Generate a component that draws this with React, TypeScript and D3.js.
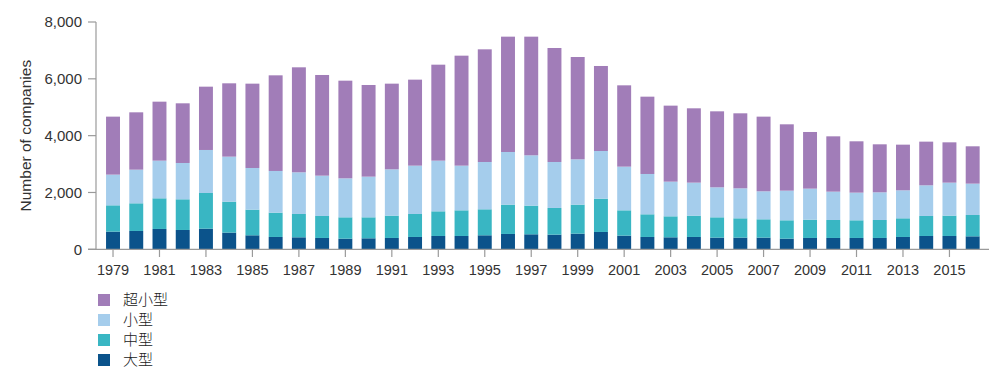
import React from "react";
import * as d3 from "d3";

const years = d3.range(1979, 2017).map(String);
// 大型 (large)
const large = [622, 645, 716, 680, 727, 587, 493, 434, 422, 399, 375, 387, 399, 434, 469, 469, 493, 540, 528, 516, 551, 610, 481, 434, 422, 434, 411, 411, 411, 375, 399, 399, 399, 399, 434, 469, 469, 457];
// 中型 (medium)
const medium = [926, 974, 1079, 1080, 1255, 1090, 903, 856, 821, 774, 751, 739, 786, 809, 868, 903, 915, 1032, 1009, 939, 1021, 1173, 891, 798, 739, 751, 715, 680, 645, 646, 645, 633, 622, 633, 657, 704, 716, 751];
// 小型 (small)
const small = [1080, 1184, 1325, 1278, 1514, 1584, 1466, 1467, 1467, 1419, 1372, 1431, 1630, 1701, 1783, 1572, 1665, 1853, 1771, 1618, 1595, 1677, 1537, 1419, 1220, 1161, 1056, 1056, 985, 1043, 1091, 997, 973, 974, 985, 1079, 1161, 1103];
// 超小型 (micro)
const micro = [2041, 2018, 2076, 2100, 2228, 2581, 2968, 3366, 3695, 3543, 3437, 3226, 3015, 3027, 3378, 3871, 3965, 4059, 4176, 4012, 3601, 2992, 2862, 2721, 2675, 2616, 2674, 2639, 2628, 2335, 1994, 1947, 1807, 1689, 1607, 1537, 1419, 1314];

const seriesKeys = ["large", "medium", "small", "micro"];
const seriesLabels = ["大型", "中型", "小型", "超小型"];
const seriesColors = ["#0b538b", "#39b6c3", "#a5cdec", "#a17db8"];
const yTicks = [0, 2000, 4000, 6000, 8000];
const xTickLabels = years.filter((_, i) => i % 2 === 0);

const rows = years.map((y, i) => ({
  year: y,
  large: large[i],
  medium: medium[i],
  small: small[i],
  micro: micro[i],
}));

export default function App() {
  const W = 1000, H = 388;
  const x = d3.scaleBand<string>().domain(years).range([101.4, 984.3]).paddingInner(0.4).paddingOuter(0.2);
  const y = d3.scaleLinear().domain([0, 8000]).range([249.3, 22]);
  const stacked = d3.stack<any>().keys(seriesKeys)(rows);
  const axisColor = "#9a9a9a";
  const textColor = "#333";
  const font = "'Liberation Sans', Arial, sans-serif";
  const axisX0 = 96;
  const legendOrder = [3, 2, 1, 0];

  return (
    <svg width={W} height={H} style={{ position: "absolute", left: 0, top: 0 }} fontFamily={font}>
      <rect width={W} height={H} fill="#fff" />
      {stacked.map((s, si) => (
        <g key={s.key} fill={seriesColors[si]}>
          {s.map((d, i) => (
            <rect
              key={i}
              x={x(years[i])}
              width={x.bandwidth()}
              y={y(d[1])}
              height={y(d[0]) - y(d[1])}
            />
          ))}
        </g>
      ))}
      {/* y axis */}
      <line x1={axisX0} x2={axisX0} y1={y(8000)} y2={y(0)} stroke={axisColor} strokeWidth={1.2} />
      {yTicks.map((t) => (
        <g key={t}>
          <line x1={88} x2={axisX0} y1={y(t)} y2={y(t)} stroke={axisColor} strokeWidth={1.2} />
          <text x={82} y={y(t)} dy="0.35em" textAnchor="end" fontSize={15} fill={textColor}>
            {d3.format(",")(t)}
          </text>
        </g>
      ))}
      {/* x axis */}
      <line x1={88} x2={989} y1={y(0)} y2={y(0)} stroke={axisColor} strokeWidth={1.2} />
      {xTickLabels.map((yr) => {
        const cx = (x(yr) as number) + x.bandwidth() / 2;
        return (
          <g key={yr}>
            <line x1={cx} x2={cx} y1={y(0)} y2={257} stroke={axisColor} strokeWidth={1.2} />
            <text x={cx} y={275} textAnchor="middle" fontSize={14.5} fill={textColor}>
              {yr}
            </text>
          </g>
        );
      })}
      <text
        transform={`translate(31,${(y(0) + y(8000)) / 2}) rotate(-90)`}
        textAnchor="middle"
        fontSize={15.5}
        fill={textColor}
      >
        Number of companies
      </text>
      {/* legend */}
      {legendOrder.map((si, k) => (
        <g key={si} transform={`translate(98,${294 + k * 20})`}>
          <rect width={12} height={12} fill={seriesColors[si]} />
          <text x={25} y={6} dy="0.36em" fontSize={15} fill="#222" fontFamily="'Noto Sans CJK JP', 'Noto Sans CJK SC', sans-serif" fontWeight={300}>
            {seriesLabels[si]}
          </text>
        </g>
      ))}
    </svg>
  );
}
